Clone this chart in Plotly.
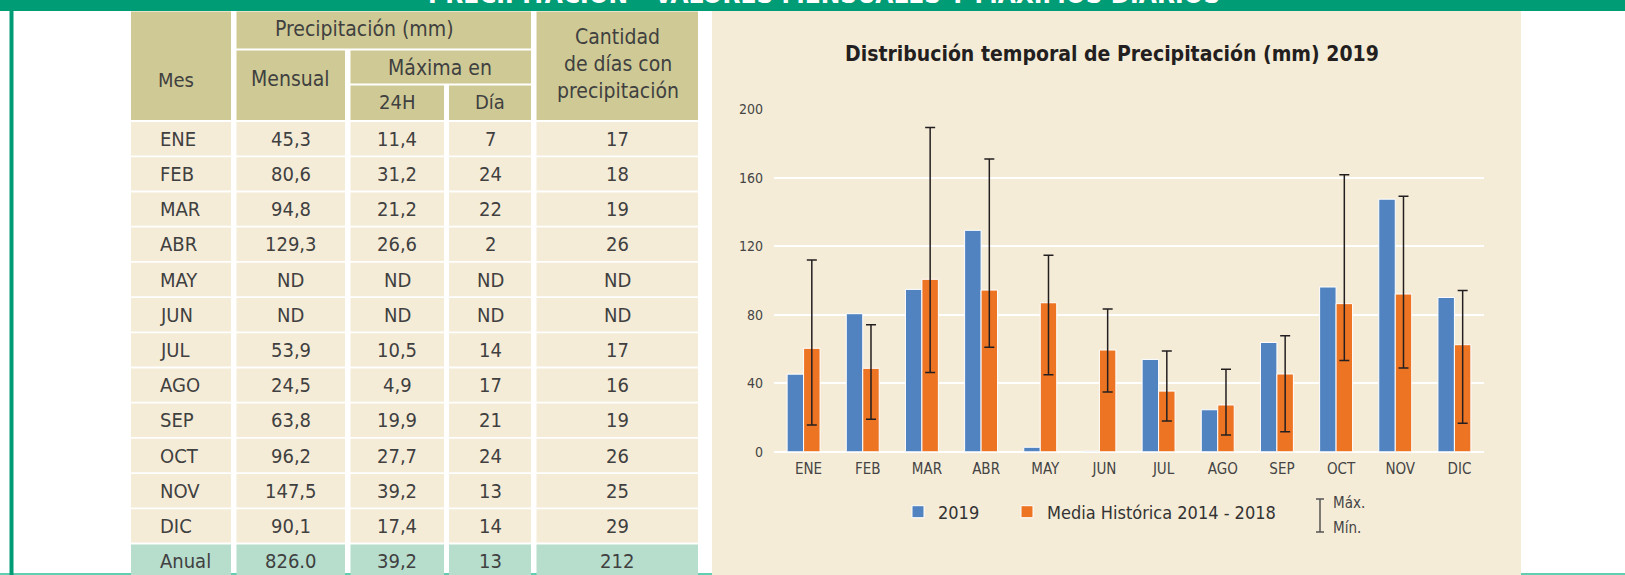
import plotly.graph_objects as go

W, H = 1625, 575

# ---- chart data -------------------------------------------------------
months = ["ENE", "FEB", "MAR", "ABR", "MAY", "JUN", "JUL", "AGO", "SEP", "OCT", "NOV", "DIC"]
precip_2019 = [45.3, 80.6, 94.8, 129.3, 2.6, 0.3, 53.9, 24.5, 63.8, 96.2, 147.5, 90.1]
media_hist = [60.4, 48.7, 100.7, 94.4, 87.0, 59.4, 35.4, 27.3, 45.4, 86.5, 92.1, 62.5]
hist_max = [112.0, 74.2, 189.3, 171.0, 114.7, 83.3, 58.8, 48.1, 67.8, 161.8, 149.2, 94.1]
hist_min = [15.6, 18.9, 46.2, 61.0, 45.0, 34.9, 17.9, 9.7, 11.7, 53.2, 48.9, 16.6]
y_ticks = [0, 40, 80, 120, 160, 200]

# ---- table data -------------------------------------------------------
table_rows = months + ["Anual"]
mensual = ["45,3", "80,6", "94,8", "129,3", "ND", "ND", "53,9", "24,5", "63,8", "96,2", "147,5", "90,1", "826.0"]
max_24h = ["11,4", "31,2", "21,2", "26,6", "ND", "ND", "10,5", "4,9", "19,9", "27,7", "39,2", "17,4", "39,2"]
dia_max = ["7", "24", "22", "2", "ND", "ND", "14", "17", "21", "24", "13", "14", "13"]
dias_precip = ["17", "18", "19", "26", "ND", "ND", "17", "16", "19", "26", "25", "29", "212"]

# ---- styling ----------------------------------------------------------
FONT = "DejaVu Sans Condensed, Liberation Sans Narrow, Arial Narrow, sans-serif"
GREEN = "#009C76"
KHAKI = "#CFCA95"
BEIGE = "#F5ECD8"
TEAL_CELL = "#B7DDCD"
TEAL_LINE = "#62CDB0"
BLUE = "#5083BF"
ORANGE = "#ED7423"
TXT = "#404040"


def px(x):
    return x / W


def py(y):
    return 1 - y / H


shapes = []
annotations = []


def rect(x0, y0, x1, y1, color):
    shapes.append(dict(type="rect", xref="paper", yref="paper",
                       x0=px(x0), x1=px(x1), y0=py(y1), y1=py(y0),
                       fillcolor=color, line=dict(width=0), layer="below"))


def text(x, y, s, size=20, color=TXT, xanchor="center", bold=False):
    annotations.append(dict(xref="paper", yref="paper", x=px(x), y=py(y),
                            text=s, showarrow=False, xanchor=xanchor, yanchor="middle",
                            font=dict(family=FONT, size=size, color=color,
                                      weight="bold" if bold else "normal")))


# page frame: bottom rule, left rule, top band with its heading
rect(0, 573, W, 575, TEAL_LINE)
rect(9.5, 11, 13.5, 575, GREEN)
rect(0, 0, W, 11, GREEN)
annotations.append(dict(xref="paper", yref="paper", x=px(824), y=py(11), yanchor="bottom",
                        text="PRECIPITACIÓN - VALORES MENSUALES Y MÁXIMOS DIARIOS",
                        showarrow=False,
                        font=dict(family=FONT, size=26, color="white", weight="bold")))

# ---- table ------------------------------------------------------------
cols = [(131, 231), (236.5, 345), (350.5, 444), (449, 531), (536.5, 698)]
head_top, head_bot = 11.5, 120

rect(cols[0][0], head_top, cols[0][1], head_bot, KHAKI)
rect(cols[1][0], head_top, cols[3][1], 48.5, KHAKI)
rect(cols[1][0], 50.5, cols[1][1], head_bot, KHAKI)
rect(cols[2][0], 50.5, cols[3][1], 83.5, KHAKI)
rect(cols[2][0], 85.5, cols[2][1], head_bot, KHAKI)
rect(cols[3][0], 85.5, cols[3][1], head_bot, KHAKI)
rect(cols[4][0], head_top, cols[4][1], head_bot, KHAKI)

text(176, 80, "Mes")
text(364, 29.5, "Precipitación (mm)", size=21)
text(290.5, 79, "Mensual", size=21)
text(440, 68, "Máxima en", size=21)
text(397, 102, "24H")
text(490, 102, "Día")
text(617.5, 37.5, "Cantidad", size=21)
text(617.5, 64, "de días con", size=21)
text(617.5, 90.5, "precipitación", size=21)

row_top, row_pitch, row_h = 122, 35.2, 33.4
columns = [table_rows, mensual, max_24h, dia_max, dias_precip]
for i in range(len(table_rows)):
    y0 = row_top + i * row_pitch
    y1 = H if i == len(table_rows) - 1 else y0 + row_h
    fill = TEAL_CELL if table_rows[i] == "Anual" else BEIGE
    yc = y0 + row_h / 2
    for j, (c0, c1) in enumerate(cols):
        rect(c0, y0, c1, y1, fill)
        if j == 0:
            text(158, yc, columns[j][i], xanchor="left")
        else:
            text((c0 + c1) / 2, yc, columns[j][i])

# ---- chart panel ------------------------------------------------------
rect(712, 11, 1521, 575, BEIGE)
text(1112, 54.5, "Distribución temporal de Precipitación (mm) 2019", size=21,
     color="#231f20", bold=True)

# legend entry for the max/min whiskers
for y in (499, 532):
    shapes.append(dict(type="line", xref="paper", yref="paper",
                       x0=px(1316), x1=px(1324), y0=py(y), y1=py(y),
                       line=dict(color="#555555", width=1.5)))
shapes.append(dict(type="line", xref="paper", yref="paper",
                   x0=px(1320), x1=px(1320), y0=py(499), y1=py(532),
                   line=dict(color="#555555", width=1.5)))
text(1331, 503, "Máx.", size=15, color="#444444", xanchor="left")
text(1331, 528, "Mín.", size=15, color="#444444", xanchor="left")

err_plus = [mx - m for mx, m in zip(hist_max, media_hist)]
err_minus = [m - mn for mn, m in zip(hist_min, media_hist)]

fig = go.Figure()
fig.add_trace(go.Bar(x=months, y=precip_2019, name="2019", legend="legend",
                     marker=dict(color=BLUE, line=dict(color="white", width=1))))
fig.add_trace(go.Bar(x=months, y=media_hist, name="Media Histórica 2014 - 2018",
                     legend="legend2",
                     marker=dict(color=ORANGE, line=dict(color="white", width=1)),
                     error_y=dict(type="data", symmetric=False, array=err_plus,
                                  arrayminus=err_minus, color="#231f20",
                                  thickness=1.5, width=5)))

legend_style = dict(orientation="h", xanchor="left", yanchor="middle",
                    bgcolor="rgba(0,0,0,0)",
                    font=dict(family=FONT, size=18, color="#333333"))

fig.update_layout(
    width=W, height=H, autosize=False,
    margin=dict(l=0, r=0, t=0, b=0, pad=0, autoexpand=False),
    paper_bgcolor="white",
    plot_bgcolor="rgba(0,0,0,0)",
    barmode="group",
    bargap=0.443,
    bargroupgap=0,
    shapes=shapes,
    annotations=annotations,
    font=dict(family=FONT, color=TXT),
    showlegend=True,
    legend=dict(x=px(898), y=py(512), **legend_style),
    legend2=dict(x=px(1007), y=py(512), **legend_style),
    xaxis=dict(domain=[px(774), px(1484)], showgrid=False, zeroline=False, showline=False,
               automargin=False,
               ticks="", tickfont=dict(family=FONT, size=15, color="#444444"),
               ticklabelshift=5, ticklabelstandoff=6, fixedrange=True),
    yaxis=dict(domain=[py(451.7), py(109.3)], range=[0, 200], tickvals=y_ticks,
               automargin=False,
               showgrid=True, gridcolor="white", gridwidth=1.5,
               zeroline=True, zerolinecolor="white", zerolinewidth=2,
               showline=False, ticks="",
               tickfont=dict(family=FONT, size=14, color="#444444"),
               ticklabelstandoff=10, fixedrange=True),
)

fig.write_html("out.html")
